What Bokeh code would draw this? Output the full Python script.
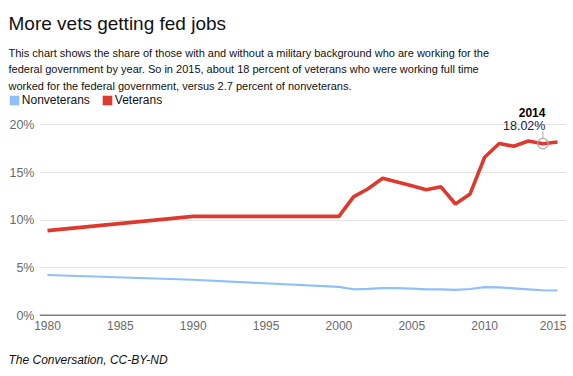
from bokeh.plotting import figure
from bokeh.layouts import column, row
from bokeh.models import (Label, Legend, LegendItem, Range1d, FixedTicker,
                          PrintfTickFormatter, Span, ColumnDataSource)
from bokeh.embed import file_html
from bokeh.resources import INLINE

# ---- data ----
years = [1980, 1990, 2000, 2001, 2002, 2003, 2004, 2005, 2006, 2007,
         2008, 2009, 2010, 2011, 2012, 2013, 2014, 2015]
veterans = [8.9, 10.4, 10.4, 12.45, 13.3, 14.4, 14.0, 13.6, 13.2, 13.5,
            11.7, 12.75, 16.6, 18.05, 17.75, 18.3, 18.02, 18.2]
nonveterans = [4.25, 3.75, 3.0, 2.75, 2.8, 2.88, 2.87, 2.82, 2.75, 2.75,
               2.68, 2.78, 2.97, 2.95, 2.85, 2.75, 2.65, 2.62]
y_ticks = [0, 5, 10, 15, 20]
x_ticks = [1980, 1985, 1990, 1995, 2000, 2005, 2010, 2015]
highlight_year = 2014

title = "More vets getting fed jobs"
desc = ["This chart shows the share of those with and without a military background who are working for the",
        "federal government by year. So in 2015, about 18 percent of veterans who were working full time",
        "worked for the federal government, versus 2.7 percent of nonveterans."]
source_note = "The Conversation, CC-BY-ND"
series_names = ["Nonveterans", "Veterans"]

RED = "#dc3a2f"
BLUE = "#8fc0fb"
FONT = "Liberation Sans"
W = 566
HEAD_H = 107
FOOT_H = 36
LEFT = 8


def text_panel(h):
    f = figure(width=W, height=h, output_backend="svg", toolbar_location=None,
               x_axis_type=None, y_axis_type=None,
               x_range=Range1d(0, W), y_range=Range1d(h, 0),
               min_border=0)
    f.outline_line_color = None
    f.grid.visible = False
    return f


# ---- header: title, description, legend ----
head = text_panel(HEAD_H)
head.add_layout(Label(x=LEFT, y=23.3, text=title, text_font=FONT, text_font_size="19px",
                      text_color="#111111", text_baseline="alphabetic"))
for i, line in enumerate(desc):
    head.add_layout(Label(x=LEFT, y=52.4 + i * 16.5, text=line, text_font=FONT,
                          text_font_size="11px", text_color="#111111",
                          text_baseline="alphabetic"))

r_non = head.vbar(x=years, top=nonveterans, width=0.8, fill_color=BLUE,
                  line_color=None, visible=False)
r_vet = head.vbar(x=years, top=veterans, width=0.8, fill_color=RED,
                  line_color=None, visible=False)
legend = Legend(items=[LegendItem(label=series_names[0], renderers=[r_non]),
                       LegendItem(label=series_names[1], renderers=[r_vet])],
                orientation="horizontal", location=(LEFT - 0.2, 0),
                padding=0, margin=0, spacing=11, label_standoff=2,
                glyph_width=12, glyph_height=12, label_height=12,
                border_line_color=None, background_fill_alpha=0,
                label_text_font=FONT, label_text_font_size="12px",
                label_text_color="#111111")
head.add_layout(legend, "center")

# ---- chart ----
Y_TOP = 21.82
p = figure(frame_width=527, frame_height=208, output_backend="svg",
           toolbar_location=None,
           min_border_left=39, min_border_right=0, min_border_top=0,
           min_border_bottom=25, x_range=Range1d(1979.451, 2015.618),
           y_range=Range1d(0, Y_TOP))
p.outline_line_color = None

p.xaxis.ticker = FixedTicker(ticks=x_ticks)
p.yaxis.ticker = FixedTicker(ticks=y_ticks)
p.yaxis.formatter = PrintfTickFormatter(format="%d%%")
for ax in (p.xaxis[0], p.yaxis[0]):
    ax.axis_line_color = None
    ax.major_tick_line_color = None
    ax.minor_tick_line_color = None
    ax.major_tick_out = 0
    ax.minor_tick_out = 0
    ax.major_label_text_color = "#6a6a6a"
    ax.major_label_text_font = FONT
p.xaxis.major_label_text_font_size = "12px"
p.yaxis.major_label_text_font_size = "12.5px"
p.yaxis.major_label_standoff = 5
p.xaxis.major_label_standoff = 5
p.xgrid.grid_line_color = None
p.ygrid.ticker = FixedTicker(ticks=y_ticks[1:])
p.ygrid.grid_line_color = "#e3e3e3"
p.ygrid.grid_line_width = 1

p.add_layout(Span(location=0, dimension="width", line_color="black", line_width=1.5))

src = ColumnDataSource(dict(year=years, vet=veterans, non=nonveterans))
p.line("year", "non", source=src, line_color=BLUE, line_width=2.2)
p.line("year", "vet", source=src, line_color=RED, line_width=3.6)

hi = years.index(highlight_year)
hx, hy = years[hi], veterans[hi]
px_per_unit = 208 / Y_TOP
p.segment(x0=[hx], x1=[hx], y0=[hy + 5.3 / px_per_unit], y1=[hy + 12.5 / px_per_unit],
          line_color="#aaaaaa", line_width=1)
p.scatter(x=[hx], y=[hy], marker="circle", size=10.5, fill_color=None,
          line_color="#aaaaaa", line_width=1.2)
p.add_layout(Label(x=hx, y=hy, text=str(highlight_year), x_offset=2.5, y_offset=31,
                   text_align="right", text_baseline="middle", text_font=FONT,
                   text_font_style="bold", text_font_size="12px", text_color="#000000"))
p.add_layout(Label(x=hx, y=hy, text="%.2f%%" % hy, x_offset=2.5, y_offset=18,
                   text_align="right", text_baseline="middle", text_font=FONT,
                   text_font_size="12.5px", text_color="#222244"))

# ---- footer ----
foot = text_panel(FOOT_H)
foot.add_layout(Label(x=LEFT, y=19.3, text=source_note, text_font=FONT,
                      text_font_size="12px", text_font_style="italic",
                      text_color="#111111", text_baseline="alphabetic"))

layout = column(row(head), p, row(foot), spacing=0)
open("out.html", "w").write(file_html(layout, INLINE))
